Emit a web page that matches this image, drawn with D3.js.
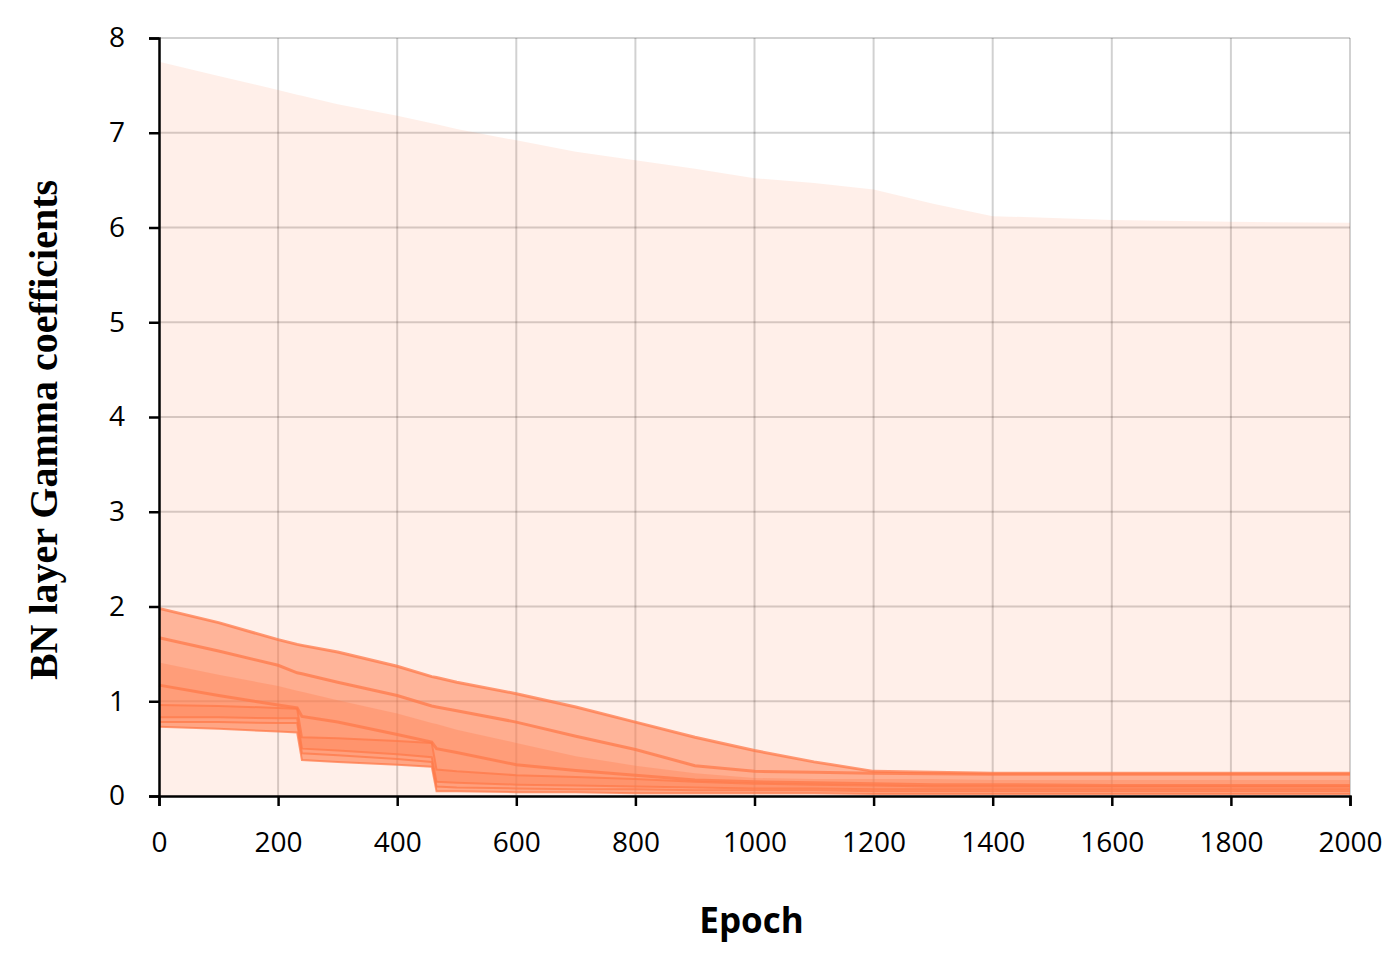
<!DOCTYPE html>
<html><head><meta charset="utf-8">
<script src="https://cdn.jsdelivr.net/npm/d3@7"></script>
<style>body{margin:0;background:#fff}</style>
</head><body><svg id="c" width="1400" height="960"></svg>
<script>
const epochs = [0,100,200,232,240,300,400,458,466,500,600,700,800,900,1000,1100,1200,1300,1400,1600,1800,2000];
const gMax = [7.75,7.6,7.45,7.4,7.39,7.3,7.18,7.1,7.09,7.04,6.92,6.8,6.71,6.62,6.52,6.47,6.4,6.25,6.12,6.08,6.06,6.05];
const u1 = [1.98,1.83,1.65,1.6,1.59,1.52,1.37,1.26,1.25,1.2,1.08,0.94,0.78,0.62,0.48,0.36,0.26,0.25,0.24,0.24,0.24,0.24];
const u2 = [1.67,1.53,1.38,1.3,1.29,1.2,1.06,0.95,0.94,0.9,0.78,0.63,0.49,0.32,0.26,0.25,0.24,0.235,0.23,0.23,0.23,0.23];
const u3 = [1.41,1.28,1.16,1.11,1.1,1.01,0.87,0.77,0.76,0.7,0.56,0.42,0.32,0.24,0.19,0.18,0.18,0.18,0.17,0.17,0.17,0.17];
const med = [1.17,1.06,0.96,0.93,0.84,0.78,0.65,0.57,0.5,0.46,0.33,0.27,0.22,0.17,0.15,0.14,0.13,0.12,0.12,0.11,0.11,0.11];
const l3 = [0.96,0.95,0.93,0.92,0.62,0.61,0.58,0.56,0.28,0.26,0.22,0.2,0.18,0.15,0.13,0.12,0.11,0.1,0.1,0.1,0.1,0.1];
const l2 = [0.83,0.83,0.82,0.82,0.5,0.48,0.44,0.41,0.15,0.14,0.12,0.11,0.1,0.09,0.08,0.08,0.07,0.07,0.07,0.07,0.07,0.07];
const l1 = [0.78,0.78,0.77,0.77,0.45,0.43,0.39,0.36,0.1,0.09,0.08,0.07,0.07,0.06,0.06,0.06,0.05,0.05,0.05,0.05,0.05,0.05];
const l0 = [0.73,0.71,0.68,0.67,0.38,0.36,0.33,0.31,0.05,0.05,0.04,0.04,0.03,0.03,0.03,0.03,0.02,0.02,0.02,0.02,0.02,0.02];
const gMin = epochs.map(() => 0);
const xTicks = [0,200,400,600,800,1000,1200,1400,1600,1800,2000];
const yTicks = [0,1,2,3,4,5,6,7,8];

const margin = {top: 38, left: 159, right: 50, bottom: 164};
const width = 1400 - margin.left - margin.right, height = 960 - margin.top - margin.bottom;
const color = "#ff7a4a";

const svg = d3.select("#c");
const g = svg.append("g").attr("transform", `translate(${margin.left},${margin.top})`);
const x = d3.scaleLinear().domain([0, 2000]).range([0, width]);
const y = d3.scaleLinear().domain([0, 8]).range([height, 0]);

// grid
g.append("g").selectAll("line").data(xTicks.slice(1)).join("line")
  .attr("x1", d => x(d)).attr("x2", d => x(d)).attr("y1", 0).attr("y2", height)
  .attr("stroke", "#000").attr("stroke-opacity", 0.18).attr("stroke-width", 2);
g.append("g").selectAll("line").data(yTicks.slice(1)).join("line")
  .attr("x1", 0).attr("x2", width).attr("y1", d => y(d)).attr("y2", d => y(d))
  .attr("stroke", "#000").attr("stroke-opacity", 0.18).attr("stroke-width", 2);

const band = (lo, hi) => d3.area().x((d, i) => x(epochs[i])).y0((d, i) => y(lo[i])).y1((d, i) => y(hi[i]))(epochs);
const line = s => d3.line().x((d, i) => x(epochs[i])).y((d, i) => y(s[i]))(epochs);

g.append("path").attr("d", band(gMin, gMax)).attr("fill", color).attr("fill-opacity", 0.12);
g.append("path").attr("d", band(l0, u1)).attr("fill", color).attr("fill-opacity", 0.5);
g.append("path").attr("d", band(l1, u2)).attr("fill", color).attr("fill-opacity", 0.12);
g.append("path").attr("d", band(l2, u3)).attr("fill", color).attr("fill-opacity", 0.3);
g.append("path").attr("d", band(l0, l3)).attr("fill", color).attr("fill-opacity", 0.25);
[u1, u2, med, l3, l2, l1, l0].forEach((s, i) => {
  g.append("path").attr("d", line(s)).attr("fill", "none").attr("stroke", color)
    .attr("stroke-width", i < 3 ? 3 : 2).attr("stroke-opacity", 0.75);
});

// axes
const font = "'Open Sans', sans-serif";
const xa = g.append("g").attr("transform", `translate(0,${height})`)
  .call(d3.axisBottom(x).tickValues(xTicks).tickSize(10).tickPadding(26).tickFormat(d3.format("d")));
const ya = g.append("g").call(d3.axisLeft(y).tickValues(yTicks).tickSize(10).tickPadding(24));
[xa, ya].forEach(a => {
  a.selectAll("path,line").attr("stroke", "#000").attr("stroke-width", 2.5);
  a.selectAll("text").attr("font-family", font).attr("font-size", 28).attr("fill", "#000");
});

svg.append("text").attr("x", margin.left + width / 2 - 3).attr("y", 933).attr("text-anchor", "middle")
  .attr("font-family", font).attr("font-weight", "bold").attr("font-size", 35).text("Epoch");
svg.append("text").attr("transform", `translate(57,430) rotate(-90)`)
  .attr("text-anchor", "middle").attr("font-family", "'Liberation Serif', serif").attr("font-weight", "bold")
  .attr("font-size", 40).text("BN layer Gamma coefficients");
</script></body></html>
